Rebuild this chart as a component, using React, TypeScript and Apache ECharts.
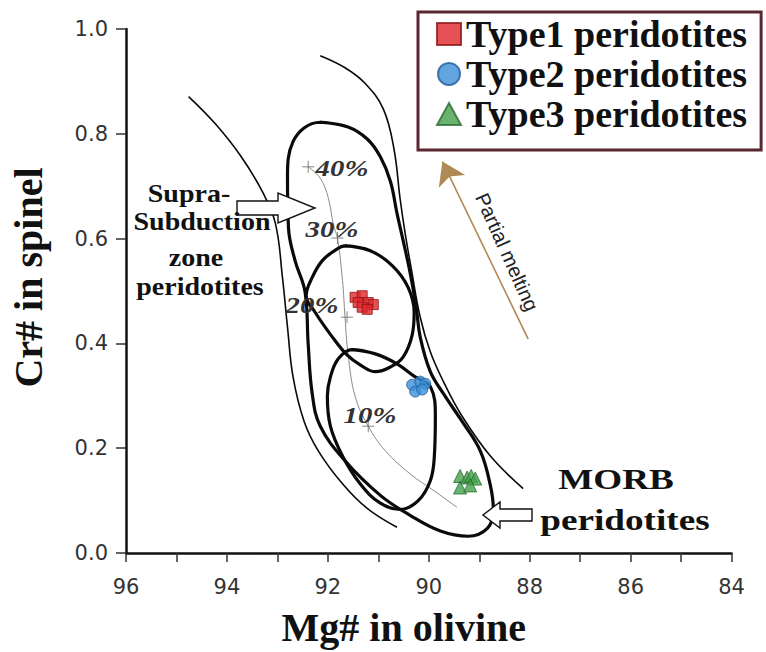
import { useEffect, useRef } from 'react';
import * as echarts from 'echarts';

// Axis ranges
const X_MIN = 84;
const X_MAX = 96;
const X_STEP = 2;
const Y_MIN = 0;
const Y_MAX = 1;
const Y_STEP = 0.2;

// Sample groups
const seriesNames = ['Type1 peridotites', 'Type2 peridotites', 'Type3 peridotites'];
const type1 = [[91.46, 0.488], [91.32, 0.491], [91.40, 0.478], [91.20, 0.478], [91.10, 0.474], [91.32, 0.469], [91.22, 0.465]];
const type2 = [[90.33, 0.321], [90.17, 0.327], [90.07, 0.323], [90.27, 0.308], [90.13, 0.312]];
const type3 = [[89.38, 0.147], [89.38, 0.125], [89.24, 0.144], [89.16, 0.147], [89.08, 0.142], [89.18, 0.129]];

// Olivine-spinel mantle array boundaries (thin)
const mantleLeft = [[94.76, 0.871], [94.23, 0.819], [93.73, 0.758], [93.30, 0.690], [93.04, 0.629], [92.90, 0.526], [92.80, 0.431], [92.69, 0.336], [92.47, 0.251], [92.19, 0.195], [91.71, 0.132], [91.22, 0.085], [90.63, 0.049]];
const mantleRight = [[92.15, 0.949], [91.66, 0.926], [91.26, 0.896], [90.90, 0.847], [90.69, 0.771], [90.57, 0.677], [90.47, 0.611], [90.35, 0.544], [90.17, 0.450], [89.97, 0.384], [89.71, 0.327], [89.34, 0.261], [88.78, 0.185], [88.13, 0.123]];

// Thick fields (closed)
const fieldLarge = [[92.15, 0.822], [91.60, 0.813], [91.22, 0.790], [90.96, 0.756], [90.76, 0.709], [90.63, 0.648], [90.51, 0.597], [90.37, 0.535], [90.25, 0.469], [90.17, 0.412], [89.97, 0.346], [89.71, 0.304], [89.34, 0.251], [88.98, 0.195], [88.78, 0.129], [88.72, 0.081], [88.84, 0.047], [89.22, 0.032], [89.77, 0.042], [90.37, 0.072], [90.96, 0.110], [91.66, 0.176], [92.15, 0.242], [92.31, 0.304], [92.39, 0.399], [92.45, 0.497], [92.65, 0.558], [92.78, 0.620], [92.80, 0.715], [92.69, 0.785]];
const fieldMiddle = [[91.66, 0.586], [91.16, 0.577], [90.72, 0.548], [90.41, 0.507], [90.29, 0.459], [90.33, 0.416], [90.51, 0.374], [90.76, 0.355], [91.06, 0.346], [91.36, 0.359], [91.62, 0.378], [91.91, 0.412], [92.25, 0.459], [92.43, 0.491], [92.31, 0.526], [92.11, 0.558], [91.85, 0.578]];
const fieldLower = [[91.52, 0.388], [91.06, 0.380], [90.63, 0.361], [90.27, 0.336], [89.97, 0.318], [89.87, 0.261], [89.89, 0.185], [89.97, 0.138], [90.21, 0.100], [90.57, 0.083], [90.96, 0.095], [91.36, 0.132], [91.71, 0.185], [91.95, 0.242], [92.01, 0.299], [91.95, 0.336], [91.79, 0.371]];

// Melting trend
const meltTrend = [[92.39, 0.737], [92.15, 0.715], [91.99, 0.677], [91.89, 0.626], [91.81, 0.601], [91.71, 0.520], [91.66, 0.450], [91.60, 0.380], [91.46, 0.299], [91.20, 0.242], [90.86, 0.195], [90.37, 0.151], [89.87, 0.117], [89.44, 0.087]];
const meltMarks = [[92.39, 0.737], [91.81, 0.601], [91.62, 0.450], [91.20, 0.242]];
const meltLabels = ['40%', '30%', '20%', '10%'];

// Partial melting arrow (from, to)
const meltArrow = [[88.03, 0.408], [89.73, 0.747]];

const closeLoop = (pts: number[][]) => [...pts, pts[0], pts[1]];

export default function App() {
  const ref = useRef<HTMLDivElement>(null);

  useEffect(() => {
    const chart = echarts.init(ref.current as HTMLDivElement, null, { renderer: 'svg' });
    const serif = '"Liberation Serif", "Times New Roman", serif';
    const sans = '"DejaVu Sans", sans-serif';

    const curve = (name: string, data: number[][], width: number) => ({
      type: 'line',
      name,
      data,
      smooth: 0.4,
      symbol: 'none',
      silent: true,
      z: 2,
      lineStyle: { color: '#0a0a0a', width },
    });

    const labelPos = [
      [342, 168],
      [332, 229],
      [312, 305],
      [370, 415],
    ];

    const txt = (text: string, x: number, y: number, size: number, scaleX: number, extra: any = {}) => ({
      type: 'text',
      x,
      y,
      scaleX,
      z: 101,
      silent: true,
      style: {
        text,
        fontFamily: serif,
        fontWeight: 'bold',
        fontSize: size,
        fill: '#111',
        align: 'center',
        verticalAlign: 'middle',
        ...extra,
      },
    });

    const option: any = {
      animation: false,
      backgroundColor: '#ffffff',
      textStyle: { fontFamily: sans },
      grid: { left: 125.6, right: 34.4, top: 29, bottom: 94, containLabel: false },
      legend: {
        data: seriesNames,
        orient: 'vertical',
        left: 418,
        top: 12,
        padding: [3, 14, 17, 18],
        itemGap: 2,
        itemWidth: 24,
        itemHeight: 22,
        borderColor: '#5a2632',
        borderWidth: 3,
        backgroundColor: '#ffffff',
        textStyle: { fontFamily: serif, fontWeight: 'bold', fontSize: 38, lineHeight: 38, color: '#111' },
      },
      xAxis: {
        type: 'value',
        min: X_MIN,
        max: X_MAX,
        interval: X_STEP,
        inverse: true,
        name: 'Mg# in olivine',
        nameLocation: 'middle',
        nameGap: 54,
        nameTextStyle: { fontFamily: serif, fontWeight: 'bold', fontSize: 40, color: '#111', padding: [0, 50, 0, 0] },
        axisLine: { show: true, onZero: false, lineStyle: { color: '#111', width: 2.5 } },
        axisTick: { show: true, length: 9, lineStyle: { color: '#333', width: 1.5 } },
        minorTick: { show: true, splitNumber: 2, length: 9, lineStyle: { color: '#333', width: 1.5 } },
        splitLine: { show: false },
        minorSplitLine: { show: false },
        axisLabel: { fontSize: 21, color: '#333', margin: 23, fontFamily: sans },
      },
      yAxis: {
        type: 'value',
        min: Y_MIN,
        max: Y_MAX,
        interval: Y_STEP,
        name: 'Cr# in spinel',
        nameLocation: 'middle',
        nameGap: 78,
        nameTextStyle: { fontFamily: serif, fontWeight: 'bold', fontSize: 40, color: '#111', padding: [0, 0, 0, 27] },
        axisLine: { show: true, onZero: false, lineStyle: { color: '#111', width: 2.5 } },
        axisTick: { show: true, length: 10, lineStyle: { color: '#333', width: 1.5 } },
        splitLine: { show: false },
        axisLabel: {
          fontSize: 21,
          color: '#333',
          margin: 18,
          fontFamily: sans,
          formatter: (v: number) => v.toFixed(1),
        },
      },
      series: [
        curve('mantle-left', mantleLeft, 1.6),
        curve('mantle-right', mantleRight, 1.6),
        curve('field-large', closeLoop(fieldLarge), 3.2),
        curve('field-middle', closeLoop(fieldMiddle), 3.2),
        curve('field-lower', closeLoop(fieldLower), 3.2),
        {
          type: 'line',
          name: 'melting-trend',
          data: meltTrend,
          smooth: 0.4,
          symbol: 'none',
          silent: true,
          z: 1,
          lineStyle: { color: '#8a8a8a', width: 1 },
          markLine: {
            silent: true,
            symbol: ['none', 'arrow'],
            symbolSize: 22,
            label: { show: false },
            lineStyle: { color: '#b08a55', width: 1.6, type: 'solid' },
            data: [[{ coord: meltArrow[0] }, { coord: meltArrow[1] }]],
          },
        },
        {
          type: 'scatter',
          name: 'melt-marks',
          data: meltMarks,
          symbol: 'path://M0,6L12,6M6,0L6,12',
          symbolSize: 12,
          silent: true,
          z: 3,
          itemStyle: { color: 'none', borderColor: '#666', borderWidth: 1 },
        },
        {
          type: 'scatter',
          name: seriesNames[0],
          data: type1,
          symbol: 'rect',
          symbolSize: 10,
          z: 5,
          itemStyle: { color: '#e0262b', borderColor: '#8c1515', borderWidth: 1 },
        },
        {
          type: 'scatter',
          name: seriesNames[1],
          data: type2,
          symbol: 'circle',
          symbolSize: 11,
          z: 5,
          itemStyle: { color: '#3b8fd8', borderColor: '#1d5b99', borderWidth: 1 },
        },
        {
          type: 'scatter',
          name: seriesNames[2],
          data: type3,
          symbol: 'triangle',
          symbolSize: 13,
          z: 5,
          itemStyle: { color: '#43a04b', borderColor: '#2c6b32', borderWidth: 1 },
        },
      ],
      graphic: [
        // SSZ arrow (pointing right)
        {
          type: 'polygon',
          z: 100,
          silent: true,
          shape: { points: [[237, 201], [278, 201], [278, 193], [315, 208], [278, 223], [278, 215], [237, 215]] },
          style: { fill: '#ffffff', stroke: '#111', lineWidth: 1.4 },
        },
        // MORB arrow (pointing left)
        {
          type: 'polygon',
          z: 100,
          silent: true,
          shape: { points: [[532, 509], [500, 509], [500, 502], [483, 515], [500, 528], [500, 521], [532, 521]] },
          style: { fill: '#ffffff', stroke: '#111', lineWidth: 1.4 },
        },
        txt('Supra-', 189, 194, 25, 1.12),
        txt('Subduction', 202, 222, 25, 1.12),
        txt('zone', 196, 258, 25, 1.12),
        txt('peridotites', 200, 287, 25, 1.12),
        txt('MORB', 616, 479, 30, 1.24),
        txt('peridotites', 625, 520, 30, 1.24),
        ...meltLabels.map((t, i) =>
          txt(t, labelPos[i][0], labelPos[i][1], 24, 1.2, { fontStyle: 'italic', fill: '#333' })
        ),
        {
          type: 'text',
          x: 507,
          y: 252,
          rotation: -1.15,
          z: 101,
          silent: true,
          style: {
            text: 'Partial melting',
            fontFamily: '"Liberation Sans", Arial, sans-serif',
            fontSize: 20,
            fill: '#222',
            align: 'center',
            verticalAlign: 'middle',
          },
        },
      ],
    };

    chart.setOption(option);
    return () => chart.dispose();
  }, []);

  return (
    <div
      ref={ref}
      style={{ position: 'fixed', left: 0, top: 0, width: 766, height: 652, background: '#fff' }}
    />
  );
}
